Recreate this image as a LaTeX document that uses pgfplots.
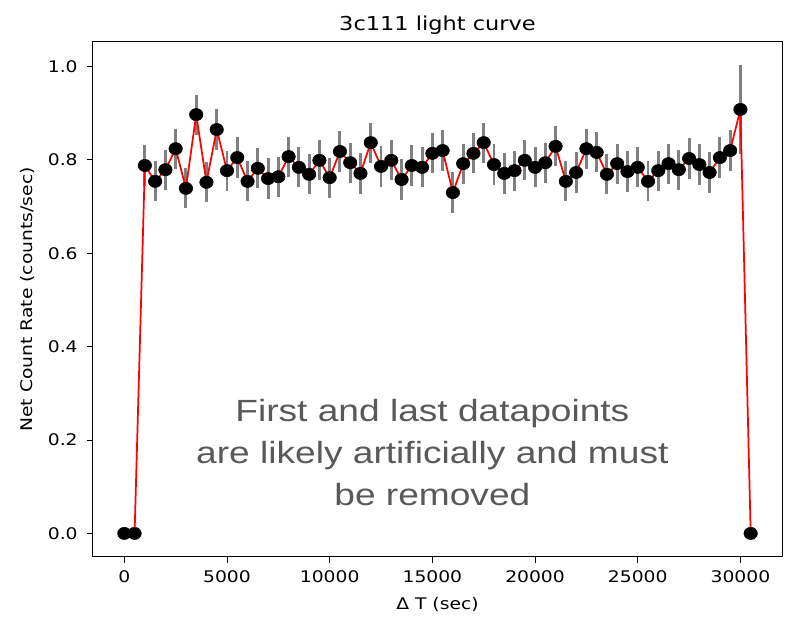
\documentclass[border=0pt]{standalone}
\usepackage{pgfplots}
\pgfplotsset{compat=1.18}
\usepackage{fontspec}
\setmainfont{DejaVu Sans}[FakeStretch=1.17]
\newfontfamily\arialfont{Liberation Sans}[FakeStretch=1.21]
\definecolor{annot}{HTML}{595959}
\definecolor{ebar}{HTML}{808080}
\begin{document}
\begin{tikzpicture}
\path[use as bounding box] (-69.75pt,-45pt) rectangle (519.75pt,417.75pt);
\begin{axis}[
  at={(0,0)}, anchor=south west,
  scale only axis, width=516.75pt, height=386.25pt,
  xmin=-1525, xmax=32025, ymin=-0.0505, ymax=1.0525,
  xtick={0,5000,10000,15000,20000,25000,30000},
  ytick={0,0.2,0.4,0.6,0.8,1.0},
  yticklabel style={/pgf/number format/fixed, /pgf/number format/fixed zerofill, /pgf/number format/precision=1, xshift=-3.5pt},
  xticklabel style={/pgf/number format/1000 sep={}, yshift=-2.5pt},
  scaled x ticks=false,
  /pgf/number format/assume math mode=true,
  tick align=outside, tick pos=left,
  major tick length=4.5pt,
  every tick/.style={black, line width=0.75pt},
  axis line style={line width=0.75pt},
  ticklabel style={font=\fontsize{12}{14}\selectfont},
  label style={font=\fontsize{12}{14}\selectfont},
  xlabel={Δ T (sec)},
  ylabel={Net Count Rate (counts/sec)},
  title={3c111 light curve},
  title style={font=\fontsize{14.4}{16}\selectfont, yshift=-4pt},
  xlabel style={yshift=-4pt},
  ylabel style={yshift=3pt},
  clip=false,
]
\pgfplotstableread{
x y e
0 0 0
500 0 0
1000 0.788 0.043
1500 0.754 0.043
2000 0.779 0.043
2500 0.824 0.043
3000 0.739 0.043
3500 0.897 0.043
4000 0.752 0.043
4500 0.865 0.043
5000 0.777 0.043
5500 0.805 0.043
6000 0.754 0.043
6500 0.782 0.043
7000 0.760 0.043
7500 0.764 0.043
8000 0.807 0.043
8500 0.784 0.043
9000 0.769 0.043
9500 0.799 0.043
10000 0.762 0.043
10500 0.818 0.043
11000 0.794 0.043
11500 0.771 0.043
12000 0.837 0.043
12500 0.786 0.043
13000 0.799 0.043
13500 0.758 0.043
14000 0.788 0.043
14500 0.784 0.043
15000 0.814 0.043
15500 0.820 0.043
16000 0.730 0.043
16500 0.792 0.043
17000 0.814 0.043
17500 0.837 0.043
18000 0.790 0.043
18500 0.771 0.043
19000 0.777 0.043
19500 0.799 0.043
20000 0.784 0.043
20500 0.794 0.043
21000 0.829 0.043
21500 0.754 0.043
22000 0.773 0.043
22500 0.824 0.043
23000 0.816 0.043
23500 0.769 0.043
24000 0.792 0.043
24500 0.775 0.043
25000 0.784 0.043
25500 0.754 0.043
26000 0.777 0.043
26500 0.792 0.043
27000 0.779 0.043
27500 0.803 0.043
28000 0.790 0.043
28500 0.773 0.043
29000 0.805 0.043
29500 0.820 0.043
30000 0.908 0.095
30500 0 0
}\lc
\addplot[draw=none, mark=none, error bars/.cd, y dir=both, y explicit,
  error bar style={ebar, line width=2.2pt}, error mark=none]
  table[x=x, y=y, y error=e]{\lc};
\addplot[red, line width=1.3pt, mark=none] table[x=x, y=y]{\lc};
\addplot[only marks, mark=*, mark size=4.6pt, mark options={fill=black, draw=black, xscale=1.1}] table[x=x, y=y]{\lc};
\node[align=center, text=annot, font=\arialfont\fontsize{23}{31.5}\selectfont]
  at (axis cs:15000,0.173) {First and last datapoints\\are likely artificially and must\\be removed};
\end{axis}
\end{tikzpicture}
\end{document}
